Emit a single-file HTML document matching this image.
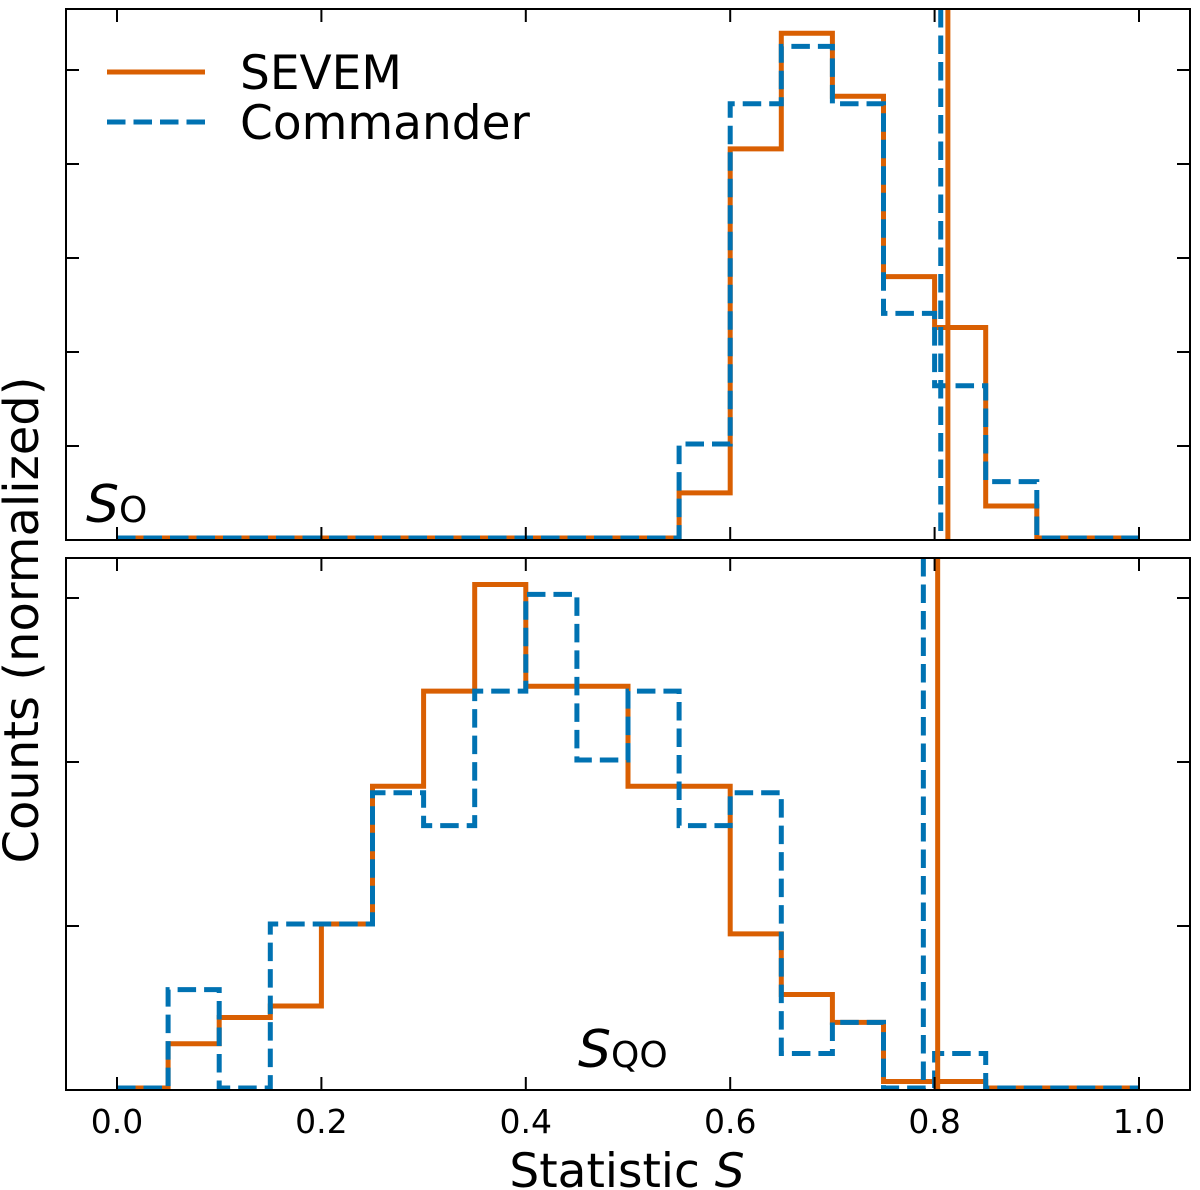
<!DOCTYPE html>
<html><head><meta charset="utf-8"><style>
html,body{margin:0;padding:0;background:#fff;}
svg{display:block;font-family:"DejaVu Sans","Liberation Sans",sans-serif;}
</style></head><body>
<svg id="chart" width="1200" height="1190" viewBox="0 0 1200 1190" xmlns="http://www.w3.org/2000/svg">
<g id="marks"></g>
<g id="axes"></g>
</svg>
<script>
const binEdges = [0,0.05,0.1,0.15,0.2,0.25,0.3,0.35,0.4,0.45,0.5,0.55,0.6,0.65,0.7,0.75,0.8,0.85,0.9,0.95,1.0];
const topSevem =     [0,0,0,0,0,0,0,0,0,0,0,0.48,4.14,5.37,4.70,2.78,2.24,0.34,0,0];
const topCommander = [0,0,0,0,0,0,0,0,0,0,0,1.0,4.62,5.23,4.62,2.39,1.62,0.60,0,0];
const topObsSevem = 0.813;
const topObsCommander = 0.806;
const botSevem =     [0,0.27,0.43,0.50,1.0,1.84,2.42,3.07,2.45,2.45,1.84,1.84,0.94,0.57,0.40,0.04,0.04,0,0,0];
const botCommander = [0,0.60,0,1.0,1.0,1.8,1.6,2.42,3.01,2.0,2.42,1.6,1.8,0.21,0.40,0,0.21,0,0,0];
const botObsSevem = 0.803;
const botObsCommander = 0.789;
const xTicks = [0,0.2,0.4,0.6,0.8,1.0];
const xTickLabels = ["0.0","0.2","0.4","0.6","0.8","1.0"];

const NS = "http://www.w3.org/2000/svg";
const ORANGE = "#d95f02", BLUE = "#0072b2";
const L = 66, R = 1190;
const panels = [
  {top:9, bottom:540, unit:94, nTicks:5, sev:topSevem, com:topCommander, oS:topObsSevem, oC:topObsCommander, name:"top"},
  {top:558, bottom:1090, unit:164, nTicks:3, sev:botSevem, com:botCommander, oS:botObsSevem, oC:botObsCommander, name:"bottom"}
];
function xs(v){ return 117 + v*1022; }
const marks = document.getElementById('marks');
const axes = document.getElementById('axes');
function mk(tag, attrs, parent){
  const e = document.createElementNS(NS, tag);
  for (const k in attrs) e.setAttribute(k, attrs[k]);
  parent.appendChild(e); return e;
}
panels.forEach(p => {
  const ys = v => p.bottom - 2 - v*p.unit;
  function stepPath(vals){
    let d = "M" + xs(binEdges[0]) + "," + ys(0);
    for (let i=0;i<vals.length;i++){
      d += " L" + xs(binEdges[i]) + "," + ys(vals[i]) + " L" + xs(binEdges[i+1]) + "," + ys(vals[i]);
    }
    d += " L" + xs(binEdges[binEdges.length-1]) + "," + ys(0);
    return d;
  }
  const ps = mk('path', {d:stepPath(p.sev), fill:'none', stroke:ORANGE, 'stroke-width':5, 'stroke-linejoin':'miter'}, marks);
  
  
  const pc = mk('path', {d:stepPath(p.com), fill:'none', stroke:BLUE, 'stroke-width':5, 'stroke-dasharray':'18.5,8'}, marks);
  
  
  const vc = mk('line', {x1:xs(p.oC), x2:xs(p.oC), y1:p.top, y2:p.bottom, stroke:BLUE, 'stroke-width':5, 'stroke-dasharray':'18.5,8'}, marks);
  
  
  const vs = mk('line', {x1:xs(p.oS), x2:xs(p.oS), y1:p.top, y2:p.bottom, stroke:ORANGE, 'stroke-width':5}, marks);
  
  
  const fr = mk('rect', {x:L, y:p.top, width:R-L, height:p.bottom-p.top, fill:'none', stroke:'#000', 'stroke-width':2}, axes);
  
  
  xTicks.forEach(t => {
    const a = mk('line', {x1:xs(t), x2:xs(t), y1:p.bottom, y2:p.bottom-13, stroke:'#000', 'stroke-width':2}, axes);
    
    
    const b = mk('line', {x1:xs(t), x2:xs(t), y1:p.top, y2:p.top+13, stroke:'#000', 'stroke-width':2}, axes);
    
    
  });
  for (let k=1;k<=p.nTicks;k++){
    const a = mk('line', {x1:L, x2:L+13, y1:p.bottom - k*p.unit, y2:p.bottom - k*p.unit, stroke:'#000', 'stroke-width':2}, axes);
    
    
    const b = mk('line', {x1:R-13, x2:R, y1:p.bottom - k*p.unit, y2:p.bottom - k*p.unit, stroke:'#000', 'stroke-width':2}, axes);
    
    
  }
});
xTicks.forEach((t,i) => {
  const tx = mk('text', {x:xs(t), y:1133, 'font-size':33, 'text-anchor':'middle', fill:'#000'}, axes);
  
  
  tx.textContent = xTickLabels[i];
});
</script>
<svg style="position:absolute;left:0;top:0" width="1200" height="1190" xmlns="http://www.w3.org/2000/svg">
  <g font-family="DejaVu Sans, Liberation Sans, sans-serif" fill="#000">
    <line x1="107" y1="72" x2="205" y2="72" stroke="#d95f02" stroke-width="5"/>
    <line x1="107" y1="122" x2="205" y2="122" stroke="#0072b2" stroke-width="5" stroke-dasharray="18.5,8"/>
    <text x="240" y="89" font-size="47">SEVEM</text>
    <text x="240" y="139" font-size="47">Commander</text>
    <text x="86" y="522" font-size="52"><tspan font-style="italic">S</tspan><tspan font-size="36">O</tspan></text>
    <text x="578" y="1067" font-size="52"><tspan font-style="italic">S</tspan><tspan font-size="36">QO</tspan></text>
    <text x="627" y="1187" font-size="47" text-anchor="middle">Statistic <tspan font-style="italic">S</tspan></text>
    <text transform="translate(38,620) rotate(-90)" font-size="48" text-anchor="middle">Counts (normalized)</text>
  </g>
</svg>
</body></html>
